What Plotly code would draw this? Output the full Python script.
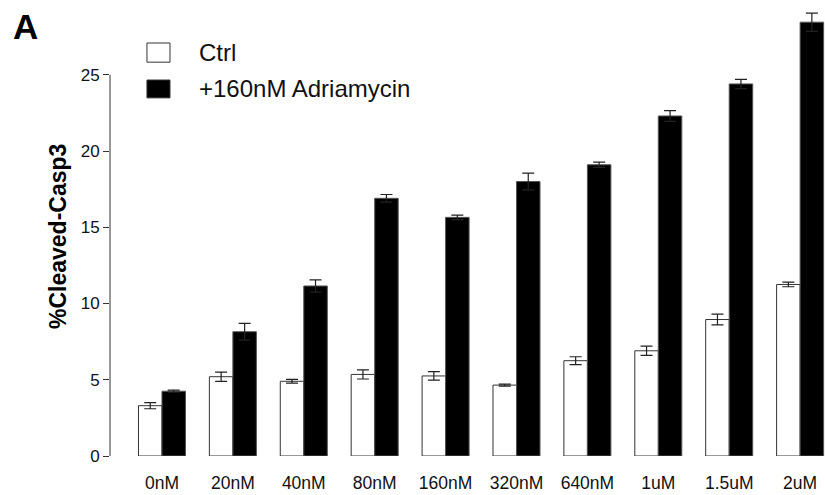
import plotly.graph_objects as go

# Caspase-3 cleavage by drug concentration, with and without Adriamycin
doses = ["0nM", "20nM", "40nM", "80nM", "160nM", "320nM", "640nM", "1uM", "1.5uM", "2uM"]
ctrl_mean = [3.3, 5.2, 4.9, 5.35, 5.25, 4.65, 6.25, 6.9, 8.95, 11.25]
ctrl_err = [0.2, 0.3, 0.12, 0.3, 0.28, 0.07, 0.26, 0.3, 0.35, 0.15]
adr_mean = [4.25, 8.15, 11.15, 16.9, 15.65, 18.0, 19.1, 22.3, 24.4, 28.45]
adr_err = [0.07, 0.55, 0.4, 0.25, 0.15, 0.55, 0.17, 0.35, 0.3, 0.6]
y_ticks = [0, 5, 10, 15, 20, 25]

FONT = "Liberation Sans, Arial, sans-serif"
INK = "#111111"

x_pos = list(range(len(doses)))

fig = go.Figure()
fig.add_trace(go.Bar(
    x=x_pos, y=ctrl_mean, name="Ctrl",
    marker=dict(color="white", line=dict(color="#333333", width=1)),
    error_y=dict(type="data", array=ctrl_err, color="#222222", thickness=1.2, width=6),
    cliponaxis=False,
))
fig.add_trace(go.Bar(
    x=x_pos, y=adr_mean, name="+160nM Adriamycin",
    marker=dict(color="black", line=dict(color="#555555", width=1)),
    error_y=dict(type="data", array=adr_err, color="#222222", thickness=1.2, width=6),
    cliponaxis=False,
))

# y axis line spans only the labelled ticks
fig.add_shape(type="line", xref="paper", yref="y", x0=0, x1=0, y0=0, y1=25,
              line=dict(color="#333333", width=1))

# hand-built legend keys
fig.add_shape(type="rect", xref="paper", yref="paper", x0=0.0517, x1=0.0839,
              y0=0.883, y1=0.926, line=dict(color="#333333", width=1), fillcolor="white")
fig.add_shape(type="rect", xref="paper", yref="paper", x0=0.0517, x1=0.0839,
              y0=0.803, y1=0.843, line=dict(color="#333333", width=1), fillcolor="black")
fig.add_annotation(xref="paper", yref="paper", x=0.1217, y=0.9036, text="Ctrl",
                   showarrow=False, xanchor="left", yanchor="middle",
                   font=dict(family=FONT, size=24, color=INK))
fig.add_annotation(xref="paper", yref="paper", x=0.1217, y=0.8229, text="+160nM Adriamycin",
                   showarrow=False, xanchor="left", yanchor="middle",
                   font=dict(family=FONT, size=24, color=INK))

# y axis title
fig.add_annotation(xref="paper", yref="paper", x=-0.0727, y=0.491, text="<b>%Cleaved-Casp3</b>",
                   showarrow=False, textangle=-90, xanchor="center", yanchor="middle",
                   font=dict(family=FONT, size=23, color="black"))

# panel letter
fig.add_annotation(xref="paper", yref="paper", x=-0.118, y=0.963, text="<b>A</b>",
                   showarrow=False, xanchor="center", yanchor="middle",
                   font=dict(family=FONT, size=35, color="black"))

fig.update_layout(
    width=825, height=495,
    margin=dict(l=110, r=0, t=10, b=39),
    paper_bgcolor="white", plot_bgcolor="white",
    barmode="group", bargap=0.337, bargroupgap=0,
    showlegend=False,
    xaxis=dict(range=[-0.733, 9.351], tickmode="array", tickvals=x_pos, ticktext=doses,
               showgrid=False, zeroline=False, showline=False, ticks="",
               ticklabelstandoff=14,
               tickfont=dict(family=FONT, size=17.5, color=INK)),
    yaxis=dict(range=[0, 29.25], tickmode="array", tickvals=y_ticks,
               showgrid=False, zeroline=False, showline=False,
               ticks="outside", ticklen=6, tickcolor="#333333", tickwidth=1,
               tickfont=dict(family=FONT, size=17, color=INK)),
)

fig.write_html("out.html")
